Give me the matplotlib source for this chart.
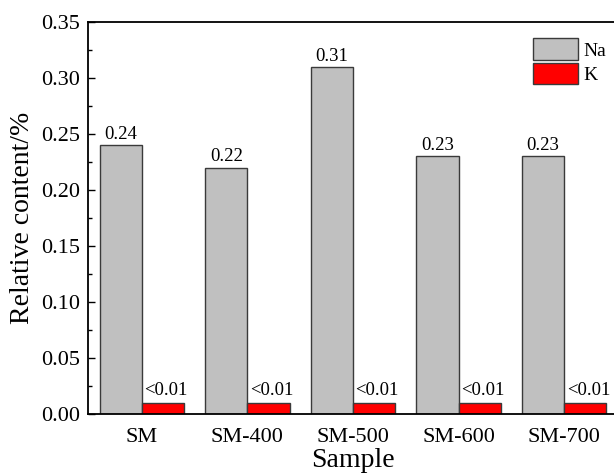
import numpy as np
import matplotlib
matplotlib.use('Agg')
import matplotlib.pyplot as plt
from matplotlib.ticker import MultipleLocator

plt.rcParams['font.family'] = ['Liberation Serif', 'DejaVu Serif']

samples = ['SM', 'SM-400', 'SM-500', 'SM-600', 'SM-700']
na = [0.24, 0.22, 0.31, 0.23, 0.23]
k = [0.01, 0.01, 0.01, 0.01, 0.01]
na_labels = ['0.24', '0.22', '0.31', '0.23', '0.23']
k_labels = ['<0.01', '<0.01', '<0.01', '<0.01', '<0.01']

fig = plt.figure(figsize=(6.14, 4.74), dpi=100)
ax = fig.add_axes([88 / 614, 60 / 474, 530 / 614, 392 / 474])

x = np.arange(len(samples))
width = 0.4

b1 = ax.bar(x - width / 2, na, width, color='#c0c0c0', edgecolor='#3a3a3a',
            linewidth=1, label='Na')
b2 = ax.bar(x + width / 2, k, width, color='#ff0000', edgecolor='#3a3a3a',
            linewidth=1, label='K')

# подписи над столбцами
for rect, lab in zip(b1, na_labels):
    ax.text(rect.get_x() + rect.get_width() / 2, rect.get_height() + 0.002, lab,
            ha='center', va='bottom', fontsize=13.5)
for rect, lab in zip(b2, k_labels):
    ax.text(rect.get_x() + rect.get_width() / 2 + 0.03, rect.get_height() + 0.003, lab,
            ha='center', va='bottom', fontsize=13.5)

ax.set_xlim(-0.51, 4.51)
ax.set_ylim(0, 0.35)
ax.set_xticks(x)
ax.set_xticklabels(samples)
ax.yaxis.set_major_locator(MultipleLocator(0.05))
ax.yaxis.set_minor_locator(MultipleLocator(0.025))
ax.yaxis.set_major_formatter(plt.FormatStrFormatter('%.2f'))
ax.tick_params(axis='y', which='major', direction='in', length=5, width=1, labelsize=16, pad=6)
ax.tick_params(axis='y', which='minor', direction='in', length=3, width=1)
ax.tick_params(axis='x', length=0, labelsize=16, pad=10)

for s in ax.spines.values():
    s.set_linewidth(1.3)

ax.set_xlabel('Sample', fontsize=20, labelpad=1)
ax.set_ylabel('Relative content/%', fontsize=20, labelpad=4)

ax.legend(loc='upper right', bbox_to_anchor=(0.993, 0.978), frameon=False, fontsize=14,
          handlelength=2.3, handleheight=1.35, handletextpad=0.3, labelspacing=0.12,
          borderaxespad=0)

fig.savefig('out.png', dpi=100)
